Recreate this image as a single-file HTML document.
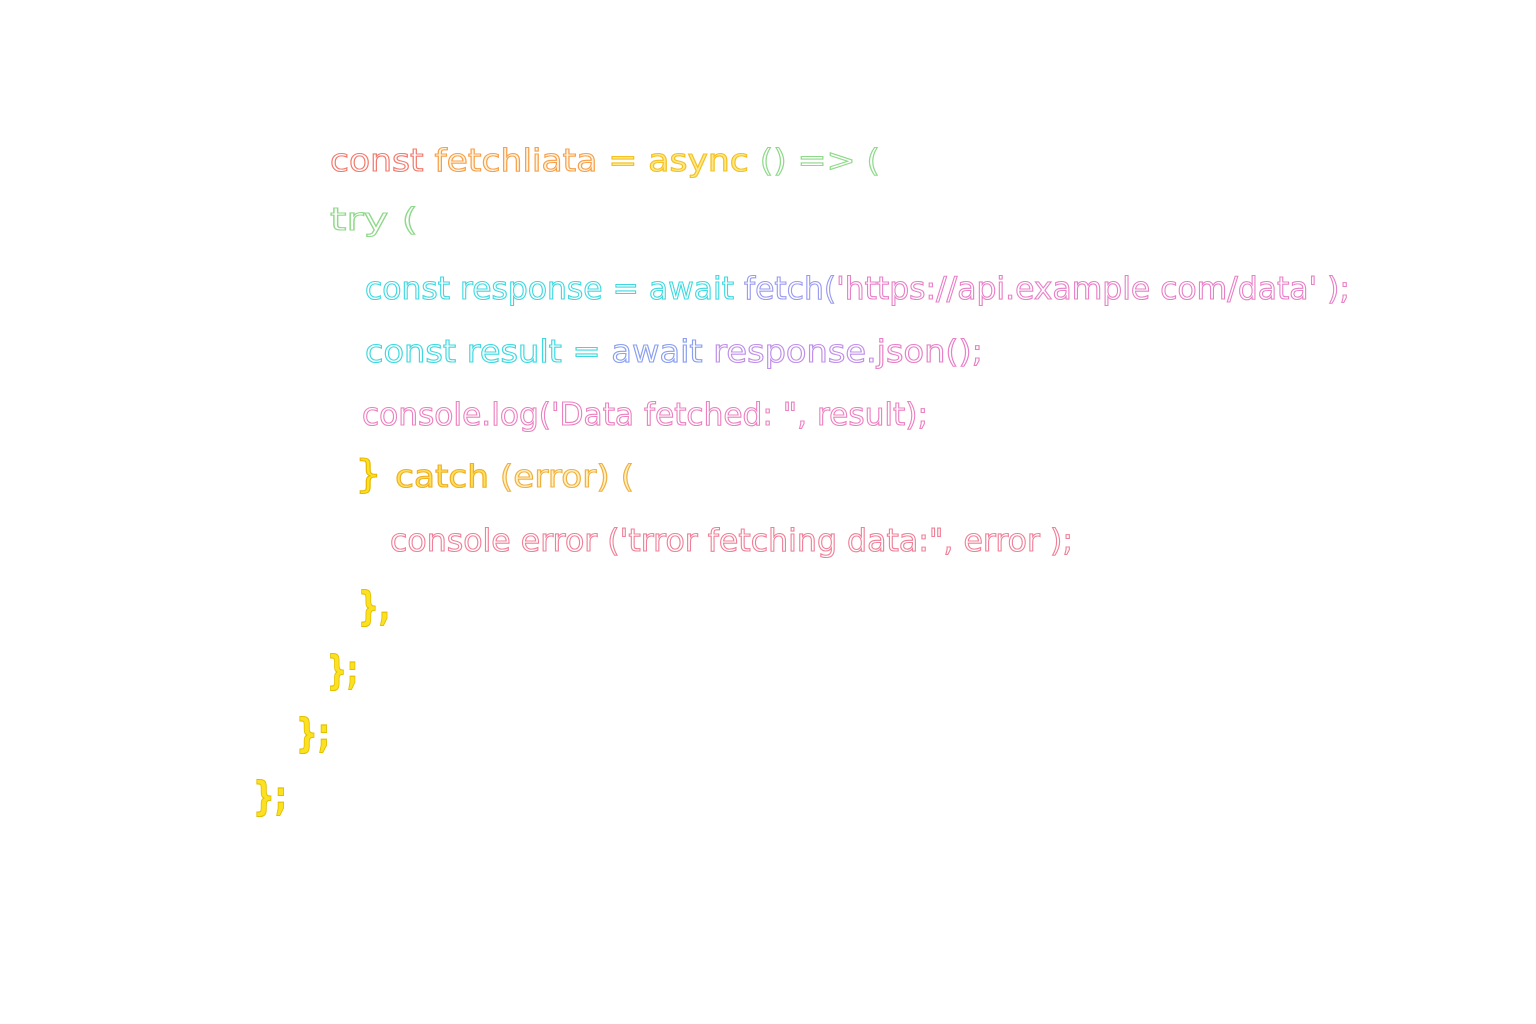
<!DOCTYPE html>
<html><head><meta charset="utf-8"><style>
html,body{margin:0;padding:0;background:#fff;}
svg{display:block}
text{font-family:"DejaVu Sans","Liberation Sans",sans-serif;font-size:31px;stroke-width:1.1;}
text.b{font-size:40px;font-weight:bold;}
</style></head><body>
<svg width="1536" height="1024" viewBox="0 0 1536 1024" xmlns="http://www.w3.org/2000/svg">
<rect width="1536" height="1024" fill="#fff"/>
<text x="330" y="171" textLength="550" lengthAdjust="spacingAndGlyphs" fill="#fff"><tspan stroke="#f27a6e">const </tspan><tspan stroke="#f7a04a" fill="#fff4e0">fetchliata </tspan><tspan stroke="#f5c020" fill="#fde98a">= async </tspan><tspan stroke="#8fd98a">() =&gt; (</tspan></text>
<text x="330" y="230" textLength="88" lengthAdjust="spacingAndGlyphs" fill="#fff" stroke="#8fd98a">try (</text>
<text x="365" y="299" textLength="985" lengthAdjust="spacingAndGlyphs" fill="#fff"><tspan stroke="#3ed9e0">const response = await </tspan><tspan stroke="#9a9af0">fetch(</tspan><tspan stroke="#e880c8">'https://api.example com/data' );</tspan></text>
<text x="365" y="362" textLength="618" lengthAdjust="spacingAndGlyphs" fill="#fff"><tspan stroke="#3ed9e0">const result = </tspan><tspan stroke="#8a9ff0">await </tspan><tspan stroke="#c090e8">response.</tspan><tspan stroke="#e880c8">json();</tspan></text>
<text x="362" y="425" textLength="566" lengthAdjust="spacingAndGlyphs" fill="#fff" stroke="#ec80c0">console.log('Data fetched: ", result);</text>
<text x="355" y="487" textLength="279" lengthAdjust="spacingAndGlyphs"><tspan fill="#fce022" stroke="#e8b800" font-size="38">} </tspan><tspan fill="#fde060" stroke="#f0b020">catch </tspan><tspan fill="#fff0c0" stroke="#f0b040">(error) (</tspan></text>
<text x="390" y="551" textLength="683" lengthAdjust="spacingAndGlyphs" fill="#fff" stroke="#f08098">console error ('trror fetching data:", error );</text>
<text class="b" x="358" y="620" textLength="32" lengthAdjust="spacingAndGlyphs" fill="#fce022" stroke="#e0c000">},</text>
<text class="b" x="327" y="684" textLength="31" lengthAdjust="spacingAndGlyphs" fill="#fce022" stroke="#e0c000">};</text>
<text class="b" x="296" y="747" textLength="34" lengthAdjust="spacingAndGlyphs" fill="#fce022" stroke="#e0c000">};</text>
<text class="b" x="253" y="810" textLength="34" lengthAdjust="spacingAndGlyphs" fill="#fce022" stroke="#e0c000">};</text>
</svg>
</body></html>
